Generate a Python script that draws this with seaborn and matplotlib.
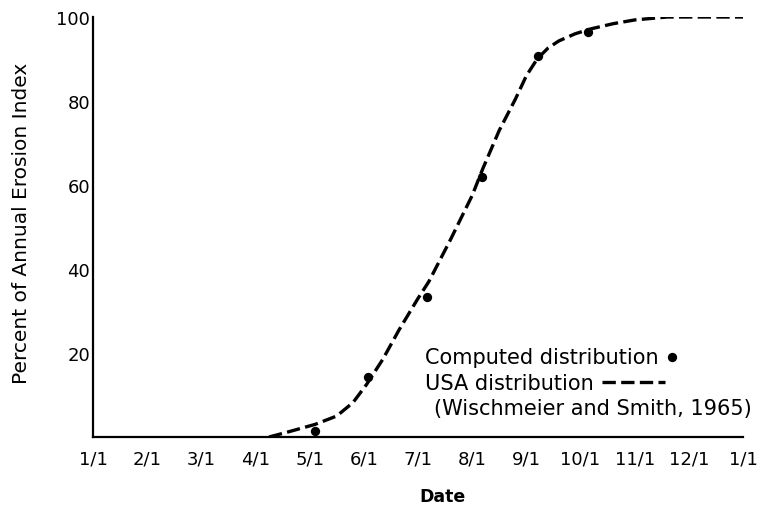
import numpy as np
import pandas as pd
import matplotlib
matplotlib.use('Agg')
import matplotlib.pyplot as plt
from matplotlib.collections import PathCollection
from matplotlib.legend_handler import HandlerPathCollection
import seaborn as sns

# Month tick labels (0 = 1/1 of year, 12 = 1/1 of next year)
month_ticks = list(range(13))
month_labels = ['1/1', '2/1', '3/1', '4/1', '5/1', '6/1', '7/1',
                '8/1', '9/1', '10/1', '11/1', '12/1', '1/1']

# USA distribution (Wischmeier and Smith, 1965)
usa_month = [3.25, 3.6, 4.1, 4.5, 4.8, 5.05, 5.35, 5.65, 6.0, 6.2, 6.6,
             7.0, 7.2, 7.5, 7.8, 8.0, 8.2, 8.4, 8.6, 8.9, 9.2, 9.6,
             10.0, 10.6, 12.0]
usa_pct = [0.0, 1.2, 3.0, 5.0, 8.2, 12.5, 18.5, 25.5, 33.0, 37.0, 47.0,
           57.5, 64.0, 73.0, 80.5, 86.0, 90.0, 92.6, 94.3, 96.0, 97.2, 98.4,
           99.3, 100.0, 100.0]

# Computed distribution points
comp_month = [4.1, 5.08, 6.17, 7.18, 8.21, 9.14]
comp_pct = [1.4, 14.3, 33.3, 62.0, 90.7, 96.4]

usa = pd.DataFrame({'month': usa_month, 'pct': usa_pct})
comp = pd.DataFrame({'month': comp_month, 'pct': comp_pct})


# legend dot sits right after its label instead of mid-handle
class LeftDot(HandlerPathCollection):
    def get_xdata(self, legend, xdescent, ydescent, width, height, fontsize):
        x = -xdescent + 0.08 * width
        return [x], [x]


sns.set_style('white')
plt.rcParams['font.family'] = ['DejaVu Sans']
plt.rcParams['text.color'] = 'black'
plt.rcParams['axes.labelcolor'] = 'black'

fig = plt.figure(figsize=(7.77, 5.10), dpi=100)
ax = fig.add_axes([93 / 777, 72 / 510, 650 / 777, 420 / 510])

sns.scatterplot(data=comp, x='month', y='pct', color='black', s=45,
                linewidth=0, label='Computed distribution', ax=ax, zorder=3)
sns.lineplot(data=usa, x='month', y='pct', color='black', lw=2.4,
             linestyle=(0, (4, 1.6)), label='USA distribution', ax=ax)

ax.set_xlim(0, 12)
ax.set_ylim(0, 100)
ax.set_xticks(month_ticks)
ax.set_xticklabels(month_labels)
ax.set_yticks([20, 40, 60, 80, 100])

for side in ['top', 'right']:
    ax.spines[side].set_visible(False)
for side in ['left', 'bottom']:
    ax.spines[side].set_linewidth(1.6)
    ax.spines[side].set_color('black')

ax.tick_params(axis='both', direction='in', length=7, width=1.4,
               colors='black', labelsize=13)
ax.tick_params(axis='x', pad=9)
ax.tick_params(axis='y', pad=2)

ax.set_xlabel('Date', fontsize=12.5, fontweight='bold')
ax.xaxis.set_label_coords(0.537, -0.12)
ax.set_ylabel('Percent of Annual Erosion Index', fontsize=14.5)
ax.yaxis.set_label_coords(-0.095, 0.51)

handles, labels = ax.get_legend_handles_labels()
leg = ax.legend(handles, labels, loc='upper left',
                bbox_to_anchor=(0.511, 0.215), frameon=False, fontsize=15,
                markerfirst=False, handlelength=3.0, handletextpad=0.4,
                labelspacing=0.3, borderaxespad=0, borderpad=0,
                handler_map={PathCollection: LeftDot()})
# left-align the rows so each key follows its own label
leg._legend_handle_box.get_children()[0].align = 'left'

ax.text(0.525, 0.07, '(Wischmeier and Smith, 1965)', transform=ax.transAxes,
        fontsize=15, va='center', ha='left', clip_on=False)

fig.savefig('out.png', dpi=100)
